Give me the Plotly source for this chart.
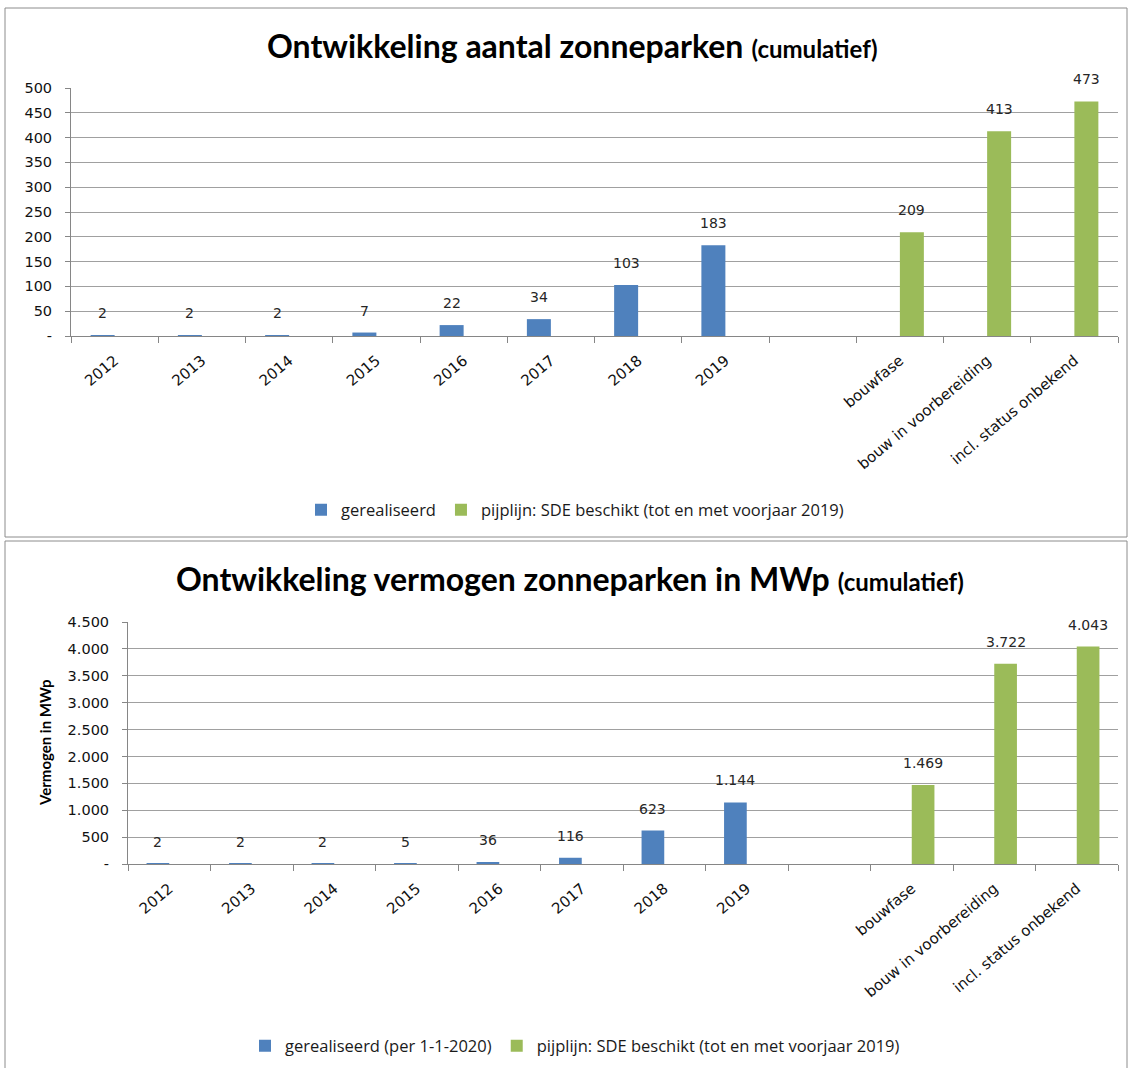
import plotly.graph_objects as go

# ---- data ----
categories = ["2012", "2013", "2014", "2015", "2016", "2017", "2018", "2019", " ",
              "bouwfase", "bouw in voorbereiding", "incl. status onbekend"]
years = ["2012", "2013", "2014", "2015", "2016", "2017", "2018", "2019"]
pipeline = ["bouwfase", "bouw in voorbereiding", "incl. status onbekend"]

aantal_gerealiseerd = [2, 2, 2, 7, 22, 34, 103, 183]
aantal_pijplijn = [209, 413, 473]
vermogen_gerealiseerd = [2, 2, 2, 5, 36, 116, 623, 1144]
vermogen_pijplijn = [1469, 3722, 4043]

y1_ticks = list(range(0, 501, 50))
y1_text = ["-"] + [str(v) for v in y1_ticks[1:]]
y2_ticks = list(range(0, 4501, 500))
y2_text = ["-"] + [f"{v:,}".replace(",", ".") for v in y2_ticks[1:]]

BLUE = "#4F81BD"
GREEN = "#9BBB59"
W, H = 1128, 1068
XTICKFONT = dict(family="DejaVu Sans", size=15, color="#111111")
YTICKFONT = dict(family="DejaVu Sans", size=14.5, color="#111111")
LABELFONT = dict(family="DejaVu Sans", size=14, color="#262626")
BARW = 0.275


def px_x(x):
    return x / W


def px_y(y):
    return 1 - y / H


def nl(v):
    return f"{v:,}".replace(",", ".")


fig = go.Figure()

series = [
    (years, aantal_gerealiseerd, "gerealiseerd", BLUE, "x", "y", "legend", -BARW),
    (pipeline, aantal_pijplijn, "pijplijn: SDE beschikt (tot en met voorjaar 2019)", GREEN, "x", "y", "legend", 0),
    (years, vermogen_gerealiseerd, "gerealiseerd (per 1-1-2020)", BLUE, "x2", "y2", "legend2", -BARW),
    (pipeline, vermogen_pijplijn, "pijplijn: SDE beschikt (tot en met voorjaar 2019)", GREEN, "x2", "y2", "legend2", 0),
]

for xs, ys, name, col, xa, ya, lg, off in series:
    fig.add_trace(go.Bar(x=xs, y=ys, name=name, marker_color=col, marker_line_width=0,
                         xaxis=xa, yaxis=ya, legend=lg, width=BARW, offset=off, hoverinfo="x+y"))
    for cx, cy in zip(xs, ys):
        # category index position + bar centre offset (in category units)
        fig.add_annotation(x=categories.index(cx) + off + BARW / 2, y=cy, xref=xa, yref=ya,
                           text=nl(cy), showarrow=False, yshift=12, yanchor="bottom",
                           font=LABELFONT)

xcommon = dict(type="category", categoryorder="array", categoryarray=categories,
               range=[-0.5, len(categories) - 0.5],
               tickson="boundaries", ticks="outside", ticklen=6, tickcolor="#868686",
               showline=True, linecolor="#868686", showgrid=False, tickangle=-40,
               ticklabelstandoff=9,
               tickfont=XTICKFONT, fixedrange=True, automargin=False)
ycommon = dict(showline=True, linecolor="#868686", showgrid=True, gridcolor="#a0a0a0",
               ticks="outside", ticklen=5, tickcolor="#868686", tickfont=YTICKFONT,
               ticklabelstandoff=10,
               zeroline=False, fixedrange=True, automargin=False)

fig.update_layout(
    width=W, height=H,
    margin=dict(l=0, r=0, t=0, b=0, autoexpand=False),
    paper_bgcolor="white", plot_bgcolor="white",
    separators=",.",
    barmode="overlay",
    xaxis=dict(xcommon, domain=[px_x(71), px_x(1118)], anchor="y"),
    yaxis=dict(ycommon, domain=[px_y(336), px_y(88)], range=[0, 500], anchor="x",
               tickvals=y1_ticks, ticktext=y1_text),
    xaxis2=dict(xcommon, domain=[px_x(128), px_x(1118)], anchor="y2"),
    yaxis2=dict(ycommon, domain=[px_y(864), px_y(622)], range=[0, 4500], anchor="x2",
                tickvals=y2_ticks, ticktext=y2_text),
    legend=dict(orientation="h", x=px_x(575), y=px_y(510), xanchor="center", yanchor="middle",
                font=dict(family="Open Sans", size=16.5, color="#1a1a1a"), itemwidth=30,
                bgcolor="rgba(0,0,0,0)"),
    legend2=dict(orientation="h", x=px_x(575), y=px_y(1046), xanchor="center", yanchor="middle",
                 font=dict(family="Open Sans", size=16.5, color="#1a1a1a"), itemwidth=30,
                 bgcolor="rgba(0,0,0,0)"),
    showlegend=True,
)

# chart boxes
fig.add_shape(type="rect", xref="paper", yref="paper", x0=px_x(5), x1=px_x(1127),
              y0=px_y(537), y1=px_y(8), line=dict(color="#8c8c8c", width=1))
fig.add_shape(type="rect", xref="paper", yref="paper", x0=px_x(5), x1=px_x(1127),
              y0=px_y(1070), y1=px_y(541), line=dict(color="#8c8c8c", width=1))

# titles
fig.add_annotation(xref="paper", yref="paper", x=px_x(572), y=px_y(45), showarrow=False,
                   text="<b>Ontwikkeling aantal zonneparken</b> <b><span style='font-size:24px'>(cumulatief)</span></b>",
                   font=dict(family="Lato", size=32, color="black"), xanchor="center", yanchor="middle")
fig.add_annotation(xref="paper", yref="paper", x=px_x(570), y=px_y(578), showarrow=False,
                   text="<b>Ontwikkeling vermogen zonneparken in MWp</b> <b><span style='font-size:24px'>(cumulatief)</span></b>",
                   font=dict(family="Lato", size=32, color="black"), xanchor="center", yanchor="middle")
fig.add_annotation(xref="paper", yref="paper", x=px_x(45), y=px_y(743), showarrow=False,
                   text="<b>Vermogen in MWp</b>", textangle=-90,
                   font=dict(family="Lato", size=15, color="black"), xanchor="center", yanchor="middle")

fig.write_html("out.html", config={"displayModeBar": False},
               post_script="document.body.style.margin='0';document.body.style.overflow='hidden';")
